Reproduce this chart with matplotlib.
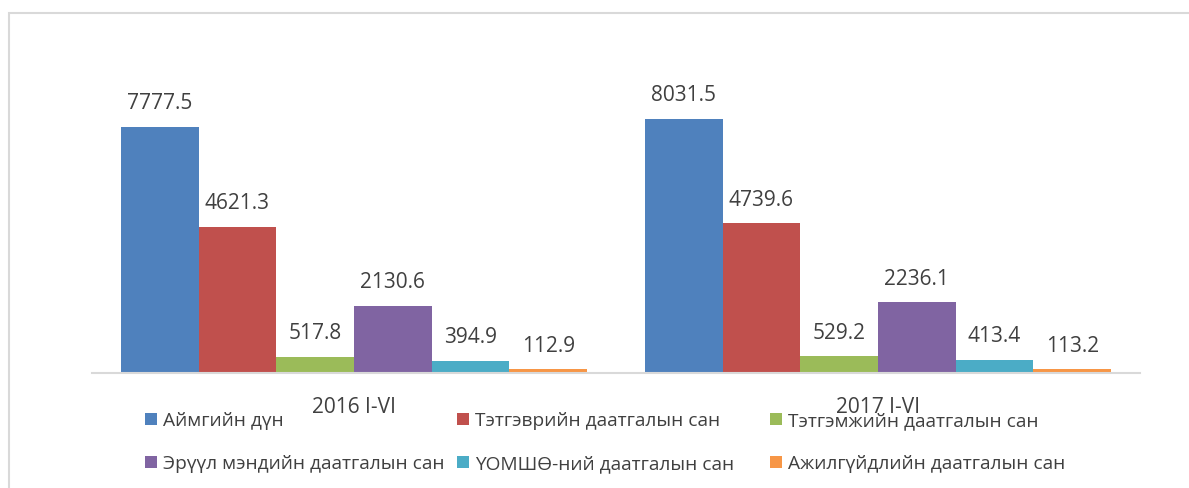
import matplotlib.pyplot as plt
import numpy as np
from matplotlib.patches import Rectangle

# Данные
categories = ['2016 I-VI', '2017 I-VI']
series_names = ['Аймгийн дүн', 'Тэтгэврийн даатгалын сан', 'Тэтгэмжийн даатгалын сан',
                'Эрүүл мэндийн даатгалын сан', 'ҮОМШӨ-ний даатгалын сан', 'Ажилгүйдлийн даатгалын сан']
values_2016 = [7777.5, 4621.3, 517.8, 2130.6, 394.9, 112.9]
values_2017 = [8031.5, 4739.6, 529.2, 2236.1, 413.4, 113.2]
colors = ['#4F81BD', '#C0504D', '#9BBB59', '#8064A2', '#4BACC6', '#F79646']

plt.rcParams['font.family'] = ['Open Sans', 'DejaVu Sans']
text_color = '#404040'

fig = plt.figure(figsize=(11.89, 4.88), dpi=100)
ax = fig.add_axes([92 / 1189, 115 / 488, 1048 / 1189, 316.3 / 488])

x = np.arange(len(categories))
w = 0.1483
bars = []
for i, name in enumerate(series_names):
    vals = [values_2016[i], values_2017[i]]
    b = ax.bar(x + (i - 2.5) * w, vals, width=w, color=colors[i], label=name)
    bars.append(b)
    for rect, v in zip(b, vals):
        ax.annotate(f'{v:.1f}', (rect.get_x() + rect.get_width() / 2, v),
                    xytext=(0, 9), textcoords='offset points',
                    ha='center', va='bottom', fontsize=15, color=text_color)

ax.set_xlim(-0.5, 1.5)
ax.set_ylim(0, 10000)
ax.set_xticks(x)
ax.set_xticklabels(categories, fontsize=15, color=text_color)
ax.tick_params(axis='x', length=0, pad=17)
ax.set_yticks([])
for s in ['top', 'right', 'left']:
    ax.spines[s].set_visible(False)
ax.spines['bottom'].set_color('#d9d9d9')
ax.spines['bottom'].set_linewidth(1.5)

# Легенда: три колонки одинаковой ширины
col_x = [145, 457, 770]
for j in range(3):
    leg = fig.legend([bars[j], bars[j + 3]], [series_names[j], series_names[j + 3]],
                     loc='upper left', bbox_to_anchor=(col_x[j] / 1189, 1 - 412 / 488),
                     frameon=False, fontsize=13.8, labelcolor=text_color,
                     handlelength=0.62, handleheight=0.62, handletextpad=0.3,
                     labelspacing=1.3, borderaxespad=0, borderpad=0)

# Рамка
fig.patches.append(Rectangle((9 / 1189, -0.1), 1.2, 1 - 13 / 488 + 0.1,
                             transform=fig.transFigure, fill=False,
                             edgecolor='#d9d9d9', linewidth=1.5))

fig.savefig('out.png', dpi=100)
